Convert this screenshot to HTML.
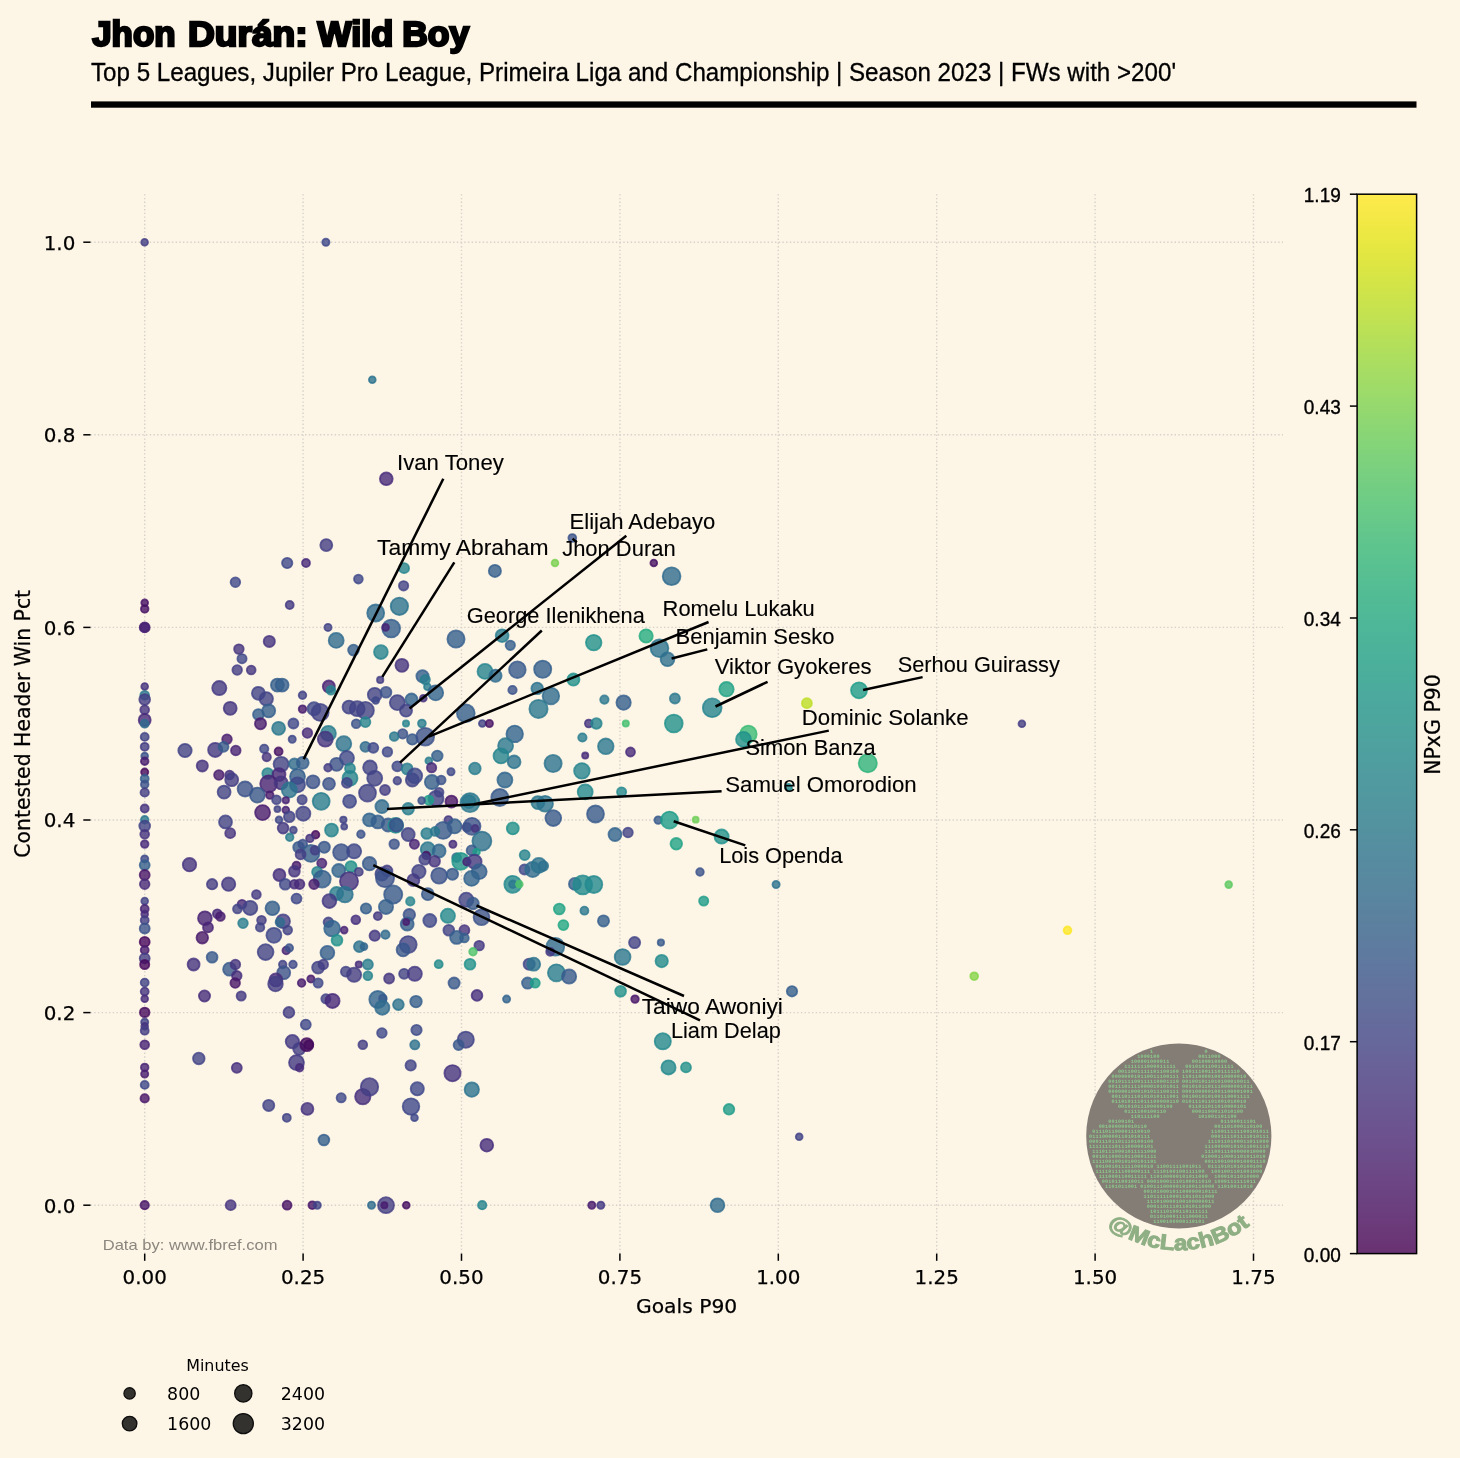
<!DOCTYPE html>
<html lang="en"><head><meta charset="utf-8"><title>Jhon Durán: Wild Boy</title>
<style>
html,body{margin:0;padding:0;background:#fdf5e6;}
body{width:1460px;height:1458px;overflow:hidden;}
svg{display:block}
.dj{font-family:"DejaVu Sans","Liberation Sans",sans-serif;}
.rb{font-family:"Liberation Sans","DejaVu Sans",sans-serif;}
</style></head><body>
<svg width="1460" height="1458" viewBox="0 0 1460 1458">
<rect width="1460" height="1458" fill="#fdf5e6"/>

<text class="rb" y="45.9" font-size="35.0" font-weight="700" fill="#000" stroke="#000" stroke-width="2.4" stroke-linejoin="miter"><tspan x="92.2" textLength="83.4" lengthAdjust="spacingAndGlyphs">Jhon</tspan> <tspan x="188.0" textLength="119.6" lengthAdjust="spacingAndGlyphs">Durán:</tspan> <tspan x="317.4" textLength="75.9" lengthAdjust="spacingAndGlyphs">Wild</tspan> <tspan x="402.3" textLength="66.9" lengthAdjust="spacingAndGlyphs">Boy</tspan></text>
<text x="91" y="80.8" class="rb" font-size="25.2" fill="#000" stroke="#000" stroke-width="0.3" textLength="1085" lengthAdjust="spacingAndGlyphs">Top 5 Leagues, Jupiler Pro League, Primeira Liga and Championship | Season 2023 | FWs with &gt;200'</text>
<rect x="91" y="101.4" width="1325.5" height="6.3" fill="#000"/>
<g stroke="#d6d2ca" stroke-width="1.4" stroke-dasharray="1.4 2.3" fill="none">
<line x1="144.7" y1="194.2" x2="144.7" y2="1253.6"/>
<line x1="303.1" y1="194.2" x2="303.1" y2="1253.6"/>
<line x1="461.5" y1="194.2" x2="461.5" y2="1253.6"/>
<line x1="619.9" y1="194.2" x2="619.9" y2="1253.6"/>
<line x1="778.3" y1="194.2" x2="778.3" y2="1253.6"/>
<line x1="936.7" y1="194.2" x2="936.7" y2="1253.6"/>
<line x1="1095.1" y1="194.2" x2="1095.1" y2="1253.6"/>
<line x1="1253.5" y1="194.2" x2="1253.5" y2="1253.6"/>
<line x1="90.5" y1="1205.2" x2="1283.0" y2="1205.2"/>
<line x1="90.5" y1="1012.6" x2="1283.0" y2="1012.6"/>
<line x1="90.5" y1="820.0" x2="1283.0" y2="820.0"/>
<line x1="90.5" y1="627.4" x2="1283.0" y2="627.4"/>
<line x1="90.5" y1="434.8" x2="1283.0" y2="434.8"/>
<line x1="90.5" y1="242.2" x2="1283.0" y2="242.2"/>
</g>
<g stroke="#000" stroke-width="1.5">
<line x1="144.7" y1="1253.6" x2="144.7" y2="1260.8"/>
<line x1="303.1" y1="1253.6" x2="303.1" y2="1260.8"/>
<line x1="461.5" y1="1253.6" x2="461.5" y2="1260.8"/>
<line x1="619.9" y1="1253.6" x2="619.9" y2="1260.8"/>
<line x1="778.3" y1="1253.6" x2="778.3" y2="1260.8"/>
<line x1="936.7" y1="1253.6" x2="936.7" y2="1260.8"/>
<line x1="1095.1" y1="1253.6" x2="1095.1" y2="1260.8"/>
<line x1="1253.5" y1="1253.6" x2="1253.5" y2="1260.8"/>
<line x1="83.3" y1="1205.2" x2="90.5" y2="1205.2"/>
<line x1="83.3" y1="1012.6" x2="90.5" y2="1012.6"/>
<line x1="83.3" y1="820.0" x2="90.5" y2="820.0"/>
<line x1="83.3" y1="627.4" x2="90.5" y2="627.4"/>
<line x1="83.3" y1="434.8" x2="90.5" y2="434.8"/>
<line x1="83.3" y1="242.2" x2="90.5" y2="242.2"/>
</g>
<g class="dj" font-size="19.9" fill="#000" stroke="#000" stroke-width="0.25">
<text x="144.7" y="1283.8" text-anchor="middle">0.00</text>
<text x="303.1" y="1283.8" text-anchor="middle">0.25</text>
<text x="461.5" y="1283.8" text-anchor="middle">0.50</text>
<text x="619.9" y="1283.8" text-anchor="middle">0.75</text>
<text x="778.3" y="1283.8" text-anchor="middle">1.00</text>
<text x="936.7" y="1283.8" text-anchor="middle">1.25</text>
<text x="1095.1" y="1283.8" text-anchor="middle">1.50</text>
<text x="1253.5" y="1283.8" text-anchor="middle">1.75</text>
<text x="75.3" y="1212.6" text-anchor="end">0.0</text>
<text x="75.3" y="1020.0" text-anchor="end">0.2</text>
<text x="75.3" y="827.4" text-anchor="end">0.4</text>
<text x="75.3" y="634.8" text-anchor="end">0.6</text>
<text x="75.3" y="442.2" text-anchor="end">0.8</text>
<text x="75.3" y="249.6" text-anchor="end">1.0</text>
</g>
<text class="dj" font-size="20.3" x="686.6" y="1312.9" text-anchor="middle" fill="#000" stroke="#000" stroke-width="0.25">Goals P90</text>
<text class="dj" font-size="20.4" transform="translate(30.0 723.8) rotate(-90)" text-anchor="middle" fill="#000" stroke="#000" stroke-width="0.25">Contested Header Win Pct</text>
<g fill-opacity="0.8" stroke-opacity="0.8" stroke-width="1.8">
<circle cx="144.6" cy="242.3" r="3.4" fill="#433e85" stroke="#433e85"/>
<circle cx="325.9" cy="242.3" r="3.6" fill="#3e4989" stroke="#3e4989"/>
<circle cx="372.3" cy="379.7" r="3.4" fill="#2c738e" stroke="#2c738e"/>
<circle cx="386.3" cy="478.8" r="6.4" fill="#472a7a" stroke="#472a7a"/>
<circle cx="572.3" cy="538.0" r="3.9" fill="#3b528b" stroke="#3b528b"/>
<circle cx="555.0" cy="563.0" r="3.4" fill="#7ad151" stroke="#7ad151"/>
<circle cx="653.8" cy="563.0" r="3.4" fill="#471365" stroke="#471365"/>
<circle cx="671.6" cy="576.2" r="8.9" fill="#2f6c8e" stroke="#2f6c8e"/>
<circle cx="494.9" cy="570.9" r="6.1" fill="#355f8d" stroke="#355f8d"/>
<circle cx="404.1" cy="568.2" r="5.0" fill="#25848e" stroke="#25848e"/>
<circle cx="403.6" cy="585.8" r="4.7" fill="#414487" stroke="#414487"/>
<circle cx="456.0" cy="639.0" r="8.6" fill="#355f8d" stroke="#355f8d"/>
<circle cx="502.1" cy="635.7" r="6.4" fill="#287d8e" stroke="#287d8e"/>
<circle cx="510.3" cy="645.3" r="4.7" fill="#355f8d" stroke="#355f8d"/>
<circle cx="593.7" cy="642.6" r="7.8" fill="#21918c" stroke="#21918c"/>
<circle cx="646.1" cy="636.0" r="6.7" fill="#26ad81" stroke="#26ad81"/>
<circle cx="659.5" cy="648.3" r="8.9" fill="#2c738e" stroke="#2c738e"/>
<circle cx="667.5" cy="659.3" r="6.9" fill="#2e6f8e" stroke="#2e6f8e"/>
<circle cx="422.5" cy="676.3" r="6.1" fill="#355f8d" stroke="#355f8d"/>
<circle cx="425.2" cy="679.6" r="4.7" fill="#287d8e" stroke="#287d8e"/>
<circle cx="427.4" cy="686.7" r="3.4" fill="#287d8e" stroke="#287d8e"/>
<circle cx="485.0" cy="671.4" r="7.5" fill="#25848e" stroke="#25848e"/>
<circle cx="495.5" cy="675.7" r="6.1" fill="#2f6c8e" stroke="#2f6c8e"/>
<circle cx="517.4" cy="669.7" r="8.3" fill="#375a8c" stroke="#375a8c"/>
<circle cx="542.7" cy="669.2" r="8.6" fill="#355f8d" stroke="#355f8d"/>
<circle cx="573.4" cy="679.6" r="6.1" fill="#21918c" stroke="#21918c"/>
<circle cx="512.5" cy="690.0" r="4.2" fill="#3b528b" stroke="#3b528b"/>
<circle cx="537.2" cy="688.4" r="5.8" fill="#2c738e" stroke="#2c738e"/>
<circle cx="550.9" cy="696.0" r="8.3" fill="#2f6c8e" stroke="#2f6c8e"/>
<circle cx="435.7" cy="692.8" r="7.5" fill="#32648e" stroke="#32648e"/>
<circle cx="411.5" cy="699.6" r="6.1" fill="#32648e" stroke="#32648e"/>
<circle cx="423.3" cy="698.2" r="3.4" fill="#463480" stroke="#463480"/>
<circle cx="406.0" cy="710.6" r="6.1" fill="#414487" stroke="#414487"/>
<circle cx="604.4" cy="699.6" r="4.2" fill="#2a788e" stroke="#2a788e"/>
<circle cx="623.6" cy="702.6" r="7.2" fill="#355f8d" stroke="#355f8d"/>
<circle cx="674.9" cy="698.5" r="5.0" fill="#2a788e" stroke="#2a788e"/>
<circle cx="726.5" cy="689.2" r="7.2" fill="#20a386" stroke="#20a386"/>
<circle cx="712.2" cy="707.8" r="9.4" fill="#25848e" stroke="#25848e"/>
<circle cx="538.5" cy="708.9" r="9.1" fill="#2a788e" stroke="#2a788e"/>
<circle cx="465.8" cy="713.3" r="8.9" fill="#355f8d" stroke="#355f8d"/>
<circle cx="406.0" cy="723.5" r="3.1" fill="#25848e" stroke="#25848e"/>
<circle cx="421.9" cy="723.5" r="3.9" fill="#287d8e" stroke="#287d8e"/>
<circle cx="482.3" cy="723.5" r="3.4" fill="#414487" stroke="#414487"/>
<circle cx="489.4" cy="723.5" r="3.6" fill="#471365" stroke="#471365"/>
<circle cx="588.8" cy="723.5" r="3.9" fill="#463480" stroke="#463480"/>
<circle cx="596.4" cy="723.5" r="5.3" fill="#25848e" stroke="#25848e"/>
<circle cx="625.8" cy="723.5" r="3.1" fill="#44bf70" stroke="#44bf70"/>
<circle cx="673.8" cy="723.5" r="8.9" fill="#21918c" stroke="#21918c"/>
<circle cx="748.4" cy="733.9" r="8.3" fill="#3bbb75" stroke="#3bbb75"/>
<circle cx="743.5" cy="739.4" r="7.5" fill="#21918c" stroke="#21918c"/>
<circle cx="402.7" cy="733.9" r="4.7" fill="#3b528b" stroke="#3b528b"/>
<circle cx="412.3" cy="739.4" r="5.3" fill="#375a8c" stroke="#375a8c"/>
<circle cx="425.2" cy="736.7" r="8.9" fill="#3b528b" stroke="#3b528b"/>
<circle cx="514.7" cy="733.9" r="8.3" fill="#32648e" stroke="#32648e"/>
<circle cx="505.6" cy="745.7" r="7.5" fill="#2a788e" stroke="#2a788e"/>
<circle cx="582.4" cy="737.5" r="4.2" fill="#287d8e" stroke="#287d8e"/>
<circle cx="605.8" cy="746.3" r="7.8" fill="#2a788e" stroke="#2a788e"/>
<circle cx="630.5" cy="752.0" r="4.5" fill="#472a7a" stroke="#472a7a"/>
<circle cx="585.2" cy="755.6" r="3.1" fill="#472a7a" stroke="#472a7a"/>
<circle cx="501.0" cy="755.9" r="7.5" fill="#25848e" stroke="#25848e"/>
<circle cx="514.1" cy="761.9" r="6.4" fill="#2c738e" stroke="#2c738e"/>
<circle cx="437.3" cy="755.9" r="5.3" fill="#355f8d" stroke="#355f8d"/>
<circle cx="428.8" cy="760.8" r="3.4" fill="#287d8e" stroke="#287d8e"/>
<circle cx="431.6" cy="767.7" r="4.7" fill="#472a7a" stroke="#472a7a"/>
<circle cx="553.1" cy="763.5" r="8.6" fill="#2c738e" stroke="#2c738e"/>
<circle cx="581.9" cy="770.9" r="7.8" fill="#25848e" stroke="#25848e"/>
<circle cx="474.9" cy="768.5" r="5.8" fill="#287d8e" stroke="#287d8e"/>
<circle cx="451.0" cy="771.8" r="3.6" fill="#3e4989" stroke="#3e4989"/>
<circle cx="859.0" cy="690.3" r="8.0" fill="#1e9c89" stroke="#1e9c89"/>
<circle cx="806.9" cy="703.2" r="5.0" fill="#bddf26" stroke="#bddf26"/>
<circle cx="1021.9" cy="723.8" r="3.4" fill="#433e85" stroke="#433e85"/>
<circle cx="867.8" cy="763.3" r="9.1" fill="#2fb47c" stroke="#2fb47c"/>
<circle cx="1067.5" cy="930.3" r="3.9" fill="#fde725" stroke="#fde725"/>
<circle cx="974.2" cy="976.2" r="3.9" fill="#86d549" stroke="#86d549"/>
<circle cx="799.2" cy="1136.7" r="3.4" fill="#414487" stroke="#414487"/>
<circle cx="1228.7" cy="884.6" r="3.4" fill="#5ec962" stroke="#5ec962"/>
<circle cx="326.3" cy="545.1" r="6.0" fill="#433e85" stroke="#433e85"/>
<circle cx="287.2" cy="563.0" r="5.2" fill="#3e4989" stroke="#3e4989"/>
<circle cx="306.0" cy="563.0" r="4.0" fill="#472a7a" stroke="#472a7a"/>
<circle cx="235.4" cy="582.2" r="4.8" fill="#3e4989" stroke="#3e4989"/>
<circle cx="358.4" cy="579.1" r="4.4" fill="#3e4989" stroke="#3e4989"/>
<circle cx="289.7" cy="605.0" r="4.0" fill="#443a83" stroke="#443a83"/>
<circle cx="375.7" cy="613.0" r="8.5" fill="#2f6c8e" stroke="#2f6c8e"/>
<circle cx="399.4" cy="606.3" r="8.7" fill="#2c738e" stroke="#2c738e"/>
<circle cx="391.2" cy="628.5" r="8.9" fill="#355f8d" stroke="#355f8d"/>
<circle cx="385.6" cy="627.4" r="3.4" fill="#482475" stroke="#482475"/>
<circle cx="328.0" cy="627.4" r="3.6" fill="#414487" stroke="#414487"/>
<circle cx="336.2" cy="640.4" r="7.5" fill="#2f6c8e" stroke="#2f6c8e"/>
<circle cx="353.5" cy="650.1" r="5.4" fill="#355f8d" stroke="#355f8d"/>
<circle cx="380.9" cy="652.1" r="6.9" fill="#25848e" stroke="#25848e"/>
<circle cx="401.9" cy="665.3" r="6.5" fill="#463480" stroke="#463480"/>
<circle cx="269.3" cy="641.4" r="5.6" fill="#463480" stroke="#463480"/>
<circle cx="238.9" cy="649.1" r="4.8" fill="#463480" stroke="#463480"/>
<circle cx="242.0" cy="658.7" r="4.6" fill="#3e4989" stroke="#3e4989"/>
<circle cx="237.2" cy="670.0" r="4.8" fill="#433e85" stroke="#433e85"/>
<circle cx="251.2" cy="670.0" r="4.4" fill="#453781" stroke="#453781"/>
<circle cx="380.2" cy="679.9" r="3.2" fill="#433e85" stroke="#433e85"/>
<circle cx="219.3" cy="688.1" r="7.1" fill="#443a83" stroke="#443a83"/>
<circle cx="277.4" cy="685.1" r="6.5" fill="#355f8d" stroke="#355f8d"/>
<circle cx="282.1" cy="685.1" r="6.5" fill="#355f8d" stroke="#355f8d"/>
<circle cx="328.8" cy="686.5" r="6.0" fill="#482475" stroke="#482475"/>
<circle cx="330.9" cy="690.2" r="4.4" fill="#25848e" stroke="#25848e"/>
<circle cx="258.4" cy="693.3" r="6.5" fill="#414487" stroke="#414487"/>
<circle cx="266.3" cy="698.8" r="6.7" fill="#414487" stroke="#414487"/>
<circle cx="302.5" cy="695.3" r="3.8" fill="#414487" stroke="#414487"/>
<circle cx="374.7" cy="694.7" r="6.9" fill="#414487" stroke="#414487"/>
<circle cx="386.0" cy="692.3" r="5.4" fill="#3b528b" stroke="#3b528b"/>
<circle cx="375.7" cy="700.5" r="3.4" fill="#3e4989" stroke="#3e4989"/>
<circle cx="397.3" cy="702.6" r="7.5" fill="#414487" stroke="#414487"/>
<circle cx="230.2" cy="708.3" r="6.5" fill="#453781" stroke="#453781"/>
<circle cx="302.5" cy="709.1" r="3.8" fill="#481d6f" stroke="#481d6f"/>
<circle cx="314.0" cy="708.7" r="6.5" fill="#3e4989" stroke="#3e4989"/>
<circle cx="320.2" cy="712.4" r="8.5" fill="#414487" stroke="#414487"/>
<circle cx="349.0" cy="707.1" r="6.5" fill="#414487" stroke="#414487"/>
<circle cx="357.2" cy="708.7" r="7.5" fill="#414487" stroke="#414487"/>
<circle cx="365.4" cy="710.4" r="8.5" fill="#414487" stroke="#414487"/>
<circle cx="268.7" cy="710.8" r="6.5" fill="#355f8d" stroke="#355f8d"/>
<circle cx="258.4" cy="714.5" r="5.4" fill="#355f8d" stroke="#355f8d"/>
<circle cx="260.5" cy="723.7" r="5.6" fill="#481d6f" stroke="#481d6f"/>
<circle cx="278.6" cy="728.3" r="6.5" fill="#2a788e" stroke="#2a788e"/>
<circle cx="293.4" cy="723.5" r="5.0" fill="#3e4989" stroke="#3e4989"/>
<circle cx="356.2" cy="723.7" r="4.4" fill="#3b528b" stroke="#3b528b"/>
<circle cx="365.4" cy="722.1" r="5.0" fill="#25848e" stroke="#25848e"/>
<circle cx="307.4" cy="733.0" r="4.8" fill="#472a7a" stroke="#472a7a"/>
<circle cx="328.4" cy="733.4" r="7.5" fill="#287d8e" stroke="#287d8e"/>
<circle cx="325.3" cy="739.2" r="7.5" fill="#463480" stroke="#463480"/>
<circle cx="292.2" cy="739.2" r="3.6" fill="#3e4989" stroke="#3e4989"/>
<circle cx="227.0" cy="739.2" r="4.8" fill="#481d6f" stroke="#481d6f"/>
<circle cx="343.8" cy="743.7" r="7.5" fill="#2c738e" stroke="#2c738e"/>
<circle cx="394.2" cy="736.5" r="4.4" fill="#2a788e" stroke="#2a788e"/>
<circle cx="185.0" cy="750.5" r="6.7" fill="#414487" stroke="#414487"/>
<circle cx="215.2" cy="749.9" r="7.1" fill="#443a83" stroke="#443a83"/>
<circle cx="223.5" cy="746.8" r="5.0" fill="#375a8c" stroke="#375a8c"/>
<circle cx="235.8" cy="750.5" r="4.8" fill="#482475" stroke="#482475"/>
<circle cx="264.2" cy="748.8" r="4.2" fill="#3e4989" stroke="#3e4989"/>
<circle cx="278.6" cy="751.5" r="4.0" fill="#471365" stroke="#471365"/>
<circle cx="266.7" cy="757.1" r="4.2" fill="#463480" stroke="#463480"/>
<circle cx="365.4" cy="746.8" r="5.0" fill="#2f6c8e" stroke="#2f6c8e"/>
<circle cx="373.3" cy="747.8" r="5.0" fill="#3e4989" stroke="#3e4989"/>
<circle cx="387.4" cy="751.9" r="4.8" fill="#3e4989" stroke="#3e4989"/>
<circle cx="202.3" cy="765.9" r="5.6" fill="#463480" stroke="#463480"/>
<circle cx="281.1" cy="764.3" r="7.5" fill="#414487" stroke="#414487"/>
<circle cx="294.4" cy="763.9" r="5.4" fill="#2f6c8e" stroke="#2f6c8e"/>
<circle cx="302.7" cy="762.8" r="6.0" fill="#355f8d" stroke="#355f8d"/>
<circle cx="346.9" cy="758.1" r="7.1" fill="#3e4989" stroke="#3e4989"/>
<circle cx="336.6" cy="764.3" r="6.5" fill="#3b528b" stroke="#3b528b"/>
<circle cx="328.0" cy="767.8" r="3.8" fill="#433e85" stroke="#433e85"/>
<circle cx="350.0" cy="768.4" r="5.0" fill="#25848e" stroke="#25848e"/>
<circle cx="370.0" cy="767.4" r="6.9" fill="#414487" stroke="#414487"/>
<circle cx="397.3" cy="766.3" r="5.0" fill="#3e4989" stroke="#3e4989"/>
<circle cx="218.9" cy="775.0" r="4.8" fill="#481d6f" stroke="#481d6f"/>
<circle cx="229.6" cy="775.0" r="4.4" fill="#463480" stroke="#463480"/>
<circle cx="231.7" cy="779.7" r="6.5" fill="#433e85" stroke="#433e85"/>
<circle cx="267.7" cy="773.5" r="5.4" fill="#25848e" stroke="#25848e"/>
<circle cx="279.0" cy="774.6" r="6.5" fill="#472a7a" stroke="#472a7a"/>
<circle cx="297.5" cy="776.6" r="7.5" fill="#355f8d" stroke="#355f8d"/>
<circle cx="350.0" cy="778.3" r="7.5" fill="#25848e" stroke="#25848e"/>
<circle cx="346.9" cy="782.8" r="5.0" fill="#414487" stroke="#414487"/>
<circle cx="374.7" cy="778.3" r="7.5" fill="#414487" stroke="#414487"/>
<circle cx="397.3" cy="780.7" r="3.8" fill="#414487" stroke="#414487"/>
<circle cx="268.7" cy="783.8" r="8.5" fill="#482475" stroke="#482475"/>
<circle cx="281.1" cy="782.8" r="6.5" fill="#463480" stroke="#463480"/>
<circle cx="297.5" cy="784.9" r="7.5" fill="#3e4989" stroke="#3e4989"/>
<circle cx="313.0" cy="781.8" r="6.5" fill="#3b528b" stroke="#3b528b"/>
<circle cx="329.0" cy="783.8" r="6.0" fill="#3b528b" stroke="#3b528b"/>
<circle cx="289.3" cy="790.0" r="7.5" fill="#2c738e" stroke="#2c738e"/>
<circle cx="224.1" cy="792.1" r="6.5" fill="#414487" stroke="#414487"/>
<circle cx="245.1" cy="789.0" r="7.5" fill="#3b528b" stroke="#3b528b"/>
<circle cx="257.4" cy="795.1" r="7.5" fill="#38588c" stroke="#38588c"/>
<circle cx="269.8" cy="795.1" r="3.8" fill="#481d6f" stroke="#481d6f"/>
<circle cx="367.5" cy="793.1" r="8.5" fill="#414487" stroke="#414487"/>
<circle cx="385.0" cy="790.0" r="5.0" fill="#433e85" stroke="#433e85"/>
<circle cx="276.5" cy="799.7" r="4.4" fill="#414487" stroke="#414487"/>
<circle cx="285.8" cy="800.3" r="3.2" fill="#482475" stroke="#482475"/>
<circle cx="302.1" cy="799.7" r="4.6" fill="#414487" stroke="#414487"/>
<circle cx="321.2" cy="801.3" r="8.5" fill="#287d8e" stroke="#287d8e"/>
<circle cx="349.6" cy="801.3" r="6.5" fill="#3e4989" stroke="#3e4989"/>
<circle cx="381.9" cy="806.5" r="6.5" fill="#2f6c8e" stroke="#2f6c8e"/>
<circle cx="262.6" cy="812.6" r="7.5" fill="#481d6f" stroke="#481d6f"/>
<circle cx="277.4" cy="809.1" r="3.0" fill="#414487" stroke="#414487"/>
<circle cx="285.8" cy="810.0" r="3.4" fill="#482475" stroke="#482475"/>
<circle cx="303.3" cy="813.7" r="7.1" fill="#414487" stroke="#414487"/>
<circle cx="289.3" cy="816.7" r="5.4" fill="#414487" stroke="#414487"/>
<circle cx="279.0" cy="819.8" r="3.4" fill="#3e4989" stroke="#3e4989"/>
<circle cx="225.5" cy="821.9" r="6.5" fill="#414487" stroke="#414487"/>
<circle cx="343.4" cy="819.8" r="3.2" fill="#414487" stroke="#414487"/>
<circle cx="344.2" cy="826.6" r="3.0" fill="#414487" stroke="#414487"/>
<circle cx="369.5" cy="819.8" r="6.5" fill="#32648e" stroke="#32648e"/>
<circle cx="377.8" cy="821.9" r="6.5" fill="#355f8d" stroke="#355f8d"/>
<circle cx="388.1" cy="825.0" r="6.5" fill="#375a8c" stroke="#375a8c"/>
<circle cx="395.7" cy="825.4" r="7.5" fill="#21918c" stroke="#21918c"/>
<circle cx="396.3" cy="825.0" r="6.7" fill="#3b528b" stroke="#3b528b"/>
<circle cx="331.5" cy="830.1" r="6.5" fill="#25848e" stroke="#25848e"/>
<circle cx="283.1" cy="828.1" r="5.4" fill="#443a83" stroke="#443a83"/>
<circle cx="293.4" cy="830.1" r="3.4" fill="#414487" stroke="#414487"/>
<circle cx="230.2" cy="833.2" r="5.0" fill="#463480" stroke="#463480"/>
<circle cx="315.6" cy="834.7" r="3.8" fill="#460b5e" stroke="#460b5e"/>
<circle cx="360.9" cy="834.2" r="3.8" fill="#3b528b" stroke="#3b528b"/>
<circle cx="289.7" cy="837.3" r="3.8" fill="#287d8e" stroke="#287d8e"/>
<circle cx="309.9" cy="838.4" r="3.8" fill="#463480" stroke="#463480"/>
<circle cx="144.7" cy="602.8" r="3.4" fill="#471365" stroke="#471365"/>
<circle cx="144.7" cy="608.9" r="3.8" fill="#471365" stroke="#471365"/>
<circle cx="144.7" cy="627.4" r="5.0" fill="#481d6f" stroke="#481d6f"/>
<circle cx="144.7" cy="627.4" r="4.4" fill="#482475" stroke="#482475"/>
<circle cx="144.7" cy="686.5" r="3.4" fill="#463480" stroke="#463480"/>
<circle cx="144.7" cy="695.3" r="4.4" fill="#2a788e" stroke="#2a788e"/>
<circle cx="144.7" cy="699.5" r="5.4" fill="#433e85" stroke="#433e85"/>
<circle cx="144.7" cy="709.8" r="4.4" fill="#463480" stroke="#463480"/>
<circle cx="144.7" cy="720.0" r="6.0" fill="#472a7a" stroke="#472a7a"/>
<circle cx="144.7" cy="723.7" r="4.0" fill="#2f6c8e" stroke="#2f6c8e"/>
<circle cx="144.7" cy="736.9" r="4.0" fill="#414487" stroke="#414487"/>
<circle cx="144.7" cy="746.8" r="4.0" fill="#433e85" stroke="#433e85"/>
<circle cx="144.7" cy="756.0" r="3.4" fill="#3b528b" stroke="#3b528b"/>
<circle cx="144.7" cy="761.2" r="3.8" fill="#481d6f" stroke="#481d6f"/>
<circle cx="144.7" cy="772.1" r="3.6" fill="#460b5e" stroke="#460b5e"/>
<circle cx="144.7" cy="778.7" r="4.0" fill="#355f8d" stroke="#355f8d"/>
<circle cx="144.7" cy="784.4" r="3.8" fill="#3b528b" stroke="#3b528b"/>
<circle cx="144.7" cy="792.5" r="4.2" fill="#433e85" stroke="#433e85"/>
<circle cx="144.7" cy="808.5" r="4.0" fill="#463480" stroke="#463480"/>
<circle cx="144.7" cy="819.8" r="3.8" fill="#2a788e" stroke="#2a788e"/>
<circle cx="144.7" cy="826.0" r="5.4" fill="#414487" stroke="#414487"/>
<circle cx="144.7" cy="834.2" r="4.4" fill="#463480" stroke="#463480"/>
<circle cx="144.7" cy="844.1" r="3.8" fill="#472a7a" stroke="#472a7a"/>
<circle cx="144.7" cy="858.9" r="3.6" fill="#3e4989" stroke="#3e4989"/>
<circle cx="144.7" cy="865.1" r="5.0" fill="#355f8d" stroke="#355f8d"/>
<circle cx="144.7" cy="875.0" r="5.0" fill="#481769" stroke="#481769"/>
<circle cx="144.7" cy="884.2" r="4.8" fill="#472a7a" stroke="#472a7a"/>
<circle cx="144.7" cy="901.1" r="3.4" fill="#414487" stroke="#414487"/>
<circle cx="144.7" cy="908.9" r="4.0" fill="#482475" stroke="#482475"/>
<circle cx="144.7" cy="914.1" r="3.4" fill="#472a7a" stroke="#472a7a"/>
<circle cx="144.7" cy="920.2" r="4.0" fill="#433e85" stroke="#433e85"/>
<circle cx="144.7" cy="928.5" r="5.0" fill="#3b528b" stroke="#3b528b"/>
<circle cx="144.7" cy="941.9" r="5.0" fill="#46085c" stroke="#46085c"/>
<circle cx="144.7" cy="950.1" r="4.0" fill="#481d6f" stroke="#481d6f"/>
<circle cx="144.7" cy="958.3" r="5.0" fill="#433e85" stroke="#433e85"/>
<circle cx="144.7" cy="964.5" r="4.6" fill="#46085c" stroke="#46085c"/>
<circle cx="144.7" cy="982.6" r="4.0" fill="#414487" stroke="#414487"/>
<circle cx="144.7" cy="991.6" r="4.0" fill="#463480" stroke="#463480"/>
<circle cx="144.7" cy="998.8" r="3.4" fill="#472a7a" stroke="#472a7a"/>
<circle cx="144.7" cy="1012.4" r="4.8" fill="#460b5e" stroke="#460b5e"/>
<circle cx="144.7" cy="1022.1" r="3.6" fill="#414487" stroke="#414487"/>
<circle cx="144.7" cy="1026.2" r="3.4" fill="#463480" stroke="#463480"/>
<circle cx="144.7" cy="1030.7" r="4.0" fill="#433e85" stroke="#433e85"/>
<circle cx="144.7" cy="1044.7" r="4.4" fill="#482475" stroke="#482475"/>
<circle cx="144.7" cy="1067.4" r="3.8" fill="#482475" stroke="#482475"/>
<circle cx="144.7" cy="1074.0" r="3.6" fill="#481d6f" stroke="#481d6f"/>
<circle cx="144.7" cy="1084.9" r="4.0" fill="#3e4989" stroke="#3e4989"/>
<circle cx="144.7" cy="1098.4" r="4.2" fill="#481769" stroke="#481769"/>
<circle cx="189.5" cy="864.7" r="6.7" fill="#463480" stroke="#463480"/>
<circle cx="212.1" cy="884.2" r="5.2" fill="#433e85" stroke="#433e85"/>
<circle cx="228.6" cy="884.2" r="6.7" fill="#443a83" stroke="#443a83"/>
<circle cx="256.4" cy="894.5" r="4.4" fill="#443a83" stroke="#443a83"/>
<circle cx="242.0" cy="904.2" r="4.4" fill="#472a7a" stroke="#472a7a"/>
<circle cx="237.4" cy="908.9" r="4.4" fill="#414487" stroke="#414487"/>
<circle cx="250.2" cy="907.9" r="7.1" fill="#414487" stroke="#414487"/>
<circle cx="272.4" cy="908.3" r="6.9" fill="#355f8d" stroke="#355f8d"/>
<circle cx="204.9" cy="918.2" r="6.9" fill="#482475" stroke="#482475"/>
<circle cx="208.0" cy="927.4" r="5.0" fill="#482475" stroke="#482475"/>
<circle cx="217.3" cy="913.7" r="4.4" fill="#472a7a" stroke="#472a7a"/>
<circle cx="220.4" cy="916.5" r="4.4" fill="#481d6f" stroke="#481d6f"/>
<circle cx="243.0" cy="923.3" r="4.8" fill="#287d8e" stroke="#287d8e"/>
<circle cx="261.5" cy="920.2" r="4.4" fill="#433e85" stroke="#433e85"/>
<circle cx="260.1" cy="927.4" r="4.2" fill="#414487" stroke="#414487"/>
<circle cx="283.1" cy="921.3" r="6.9" fill="#433e85" stroke="#433e85"/>
<circle cx="280.0" cy="922.3" r="4.4" fill="#2f6c8e" stroke="#2f6c8e"/>
<circle cx="287.7" cy="930.1" r="4.4" fill="#414487" stroke="#414487"/>
<circle cx="273.9" cy="935.3" r="7.5" fill="#3e4989" stroke="#3e4989"/>
<circle cx="202.3" cy="937.7" r="5.8" fill="#481a6c" stroke="#481a6c"/>
<circle cx="265.6" cy="952.1" r="7.9" fill="#414487" stroke="#414487"/>
<circle cx="286.2" cy="950.5" r="3.8" fill="#482475" stroke="#482475"/>
<circle cx="289.3" cy="948.0" r="3.8" fill="#3b528b" stroke="#3b528b"/>
<circle cx="212.1" cy="957.3" r="5.4" fill="#375a8c" stroke="#375a8c"/>
<circle cx="193.6" cy="964.5" r="6.0" fill="#463480" stroke="#463480"/>
<circle cx="229.6" cy="969.2" r="6.5" fill="#375a8c" stroke="#375a8c"/>
<circle cx="235.4" cy="964.5" r="4.8" fill="#463480" stroke="#463480"/>
<circle cx="236.8" cy="975.8" r="4.8" fill="#472e7c" stroke="#472e7c"/>
<circle cx="235.2" cy="983.0" r="4.8" fill="#481769" stroke="#481769"/>
<circle cx="282.7" cy="964.5" r="3.8" fill="#414487" stroke="#414487"/>
<circle cx="293.0" cy="964.5" r="3.8" fill="#3e4989" stroke="#3e4989"/>
<circle cx="283.7" cy="972.7" r="6.5" fill="#3b528b" stroke="#3b528b"/>
<circle cx="275.9" cy="979.9" r="6.5" fill="#472e7c" stroke="#472e7c"/>
<circle cx="275.5" cy="984.0" r="7.3" fill="#433e85" stroke="#433e85"/>
<circle cx="301.6" cy="983.0" r="3.8" fill="#481d6f" stroke="#481d6f"/>
<circle cx="310.9" cy="978.9" r="3.6" fill="#481d6f" stroke="#481d6f"/>
<circle cx="318.1" cy="983.0" r="4.6" fill="#3e4989" stroke="#3e4989"/>
<circle cx="204.5" cy="996.0" r="5.6" fill="#472e7c" stroke="#472e7c"/>
<circle cx="241.2" cy="996.0" r="4.6" fill="#443a83" stroke="#443a83"/>
<circle cx="288.9" cy="1012.4" r="5.4" fill="#433e85" stroke="#433e85"/>
<circle cx="305.8" cy="1024.6" r="5.0" fill="#3e4989" stroke="#3e4989"/>
<circle cx="292.4" cy="1041.6" r="6.7" fill="#443a83" stroke="#443a83"/>
<circle cx="299.2" cy="1048.8" r="6.0" fill="#433e85" stroke="#433e85"/>
<circle cx="306.8" cy="1044.7" r="6.5" fill="#460b5e" stroke="#460b5e"/>
<circle cx="308.8" cy="1044.7" r="4.4" fill="#460b5e" stroke="#460b5e"/>
<circle cx="296.5" cy="1062.6" r="7.5" fill="#443a83" stroke="#443a83"/>
<circle cx="299.6" cy="1067.8" r="3.8" fill="#472a7a" stroke="#472a7a"/>
<circle cx="198.8" cy="1058.5" r="5.8" fill="#414487" stroke="#414487"/>
<circle cx="236.8" cy="1067.8" r="5.0" fill="#46307e" stroke="#46307e"/>
<circle cx="268.7" cy="1105.4" r="5.6" fill="#414487" stroke="#414487"/>
<circle cx="286.8" cy="1117.8" r="4.0" fill="#414487" stroke="#414487"/>
<circle cx="307.4" cy="1108.9" r="6.0" fill="#463480" stroke="#463480"/>
<circle cx="341.2" cy="1097.8" r="4.6" fill="#3e4989" stroke="#3e4989"/>
<circle cx="362.8" cy="1096.6" r="7.7" fill="#472e7c" stroke="#472e7c"/>
<circle cx="369.5" cy="1086.9" r="8.7" fill="#433e85" stroke="#433e85"/>
<circle cx="362.8" cy="1044.7" r="4.4" fill="#433e85" stroke="#433e85"/>
<circle cx="381.9" cy="1033.0" r="4.8" fill="#3e4989" stroke="#3e4989"/>
<circle cx="323.9" cy="1140.0" r="5.4" fill="#355f8d" stroke="#355f8d"/>
<circle cx="298.6" cy="847.2" r="5.4" fill="#375a8c" stroke="#375a8c"/>
<circle cx="302.7" cy="844.1" r="4.4" fill="#3b528b" stroke="#3b528b"/>
<circle cx="310.9" cy="853.4" r="8.5" fill="#355f8d" stroke="#355f8d"/>
<circle cx="300.6" cy="854.4" r="5.0" fill="#433e85" stroke="#433e85"/>
<circle cx="315.0" cy="850.3" r="4.4" fill="#433e85" stroke="#433e85"/>
<circle cx="324.3" cy="847.2" r="5.6" fill="#38588c" stroke="#38588c"/>
<circle cx="341.2" cy="852.3" r="8.1" fill="#3b528b" stroke="#3b528b"/>
<circle cx="354.1" cy="851.3" r="7.1" fill="#3e4989" stroke="#3e4989"/>
<circle cx="394.2" cy="844.1" r="4.8" fill="#3b528b" stroke="#3b528b"/>
<circle cx="369.5" cy="863.7" r="6.7" fill="#375a8c" stroke="#375a8c"/>
<circle cx="351.0" cy="866.7" r="5.6" fill="#21918c" stroke="#21918c"/>
<circle cx="321.8" cy="863.3" r="4.6" fill="#482475" stroke="#482475"/>
<circle cx="296.5" cy="865.7" r="4.0" fill="#481a6c" stroke="#481a6c"/>
<circle cx="294.4" cy="871.3" r="5.4" fill="#463480" stroke="#463480"/>
<circle cx="317.1" cy="871.9" r="5.0" fill="#25848e" stroke="#25848e"/>
<circle cx="338.7" cy="870.5" r="6.5" fill="#32648e" stroke="#32648e"/>
<circle cx="358.8" cy="871.9" r="4.0" fill="#433e85" stroke="#433e85"/>
<circle cx="279.4" cy="875.0" r="6.0" fill="#46307e" stroke="#46307e"/>
<circle cx="322.2" cy="879.1" r="8.5" fill="#355f8d" stroke="#355f8d"/>
<circle cx="349.0" cy="881.2" r="9.1" fill="#463480" stroke="#463480"/>
<circle cx="381.9" cy="874.0" r="6.5" fill="#414487" stroke="#414487"/>
<circle cx="387.0" cy="870.9" r="5.4" fill="#433e85" stroke="#433e85"/>
<circle cx="385.0" cy="878.1" r="9.1" fill="#3b528b" stroke="#3b528b"/>
<circle cx="285.2" cy="884.2" r="5.4" fill="#3e4989" stroke="#3e4989"/>
<circle cx="294.4" cy="884.2" r="4.4" fill="#472e7c" stroke="#472e7c"/>
<circle cx="299.6" cy="884.2" r="4.8" fill="#472a7a" stroke="#472a7a"/>
<circle cx="314.0" cy="884.2" r="4.8" fill="#481d6f" stroke="#481d6f"/>
<circle cx="336.6" cy="893.5" r="6.5" fill="#287d8e" stroke="#287d8e"/>
<circle cx="344.9" cy="894.5" r="7.9" fill="#2c738e" stroke="#2c738e"/>
<circle cx="393.2" cy="894.5" r="9.1" fill="#375a8c" stroke="#375a8c"/>
<circle cx="296.5" cy="898.6" r="5.0" fill="#3e4989" stroke="#3e4989"/>
<circle cx="329.4" cy="901.1" r="6.9" fill="#443a83" stroke="#443a83"/>
<circle cx="386.0" cy="906.9" r="7.1" fill="#355f8d" stroke="#355f8d"/>
<circle cx="366.0" cy="908.5" r="5.2" fill="#355f8d" stroke="#355f8d"/>
<circle cx="377.8" cy="916.1" r="4.0" fill="#443a83" stroke="#443a83"/>
<circle cx="355.8" cy="919.8" r="4.4" fill="#46307e" stroke="#46307e"/>
<circle cx="328.4" cy="922.3" r="4.8" fill="#414487" stroke="#414487"/>
<circle cx="332.1" cy="928.5" r="7.9" fill="#32648e" stroke="#32648e"/>
<circle cx="344.2" cy="930.1" r="3.4" fill="#482475" stroke="#482475"/>
<circle cx="374.7" cy="935.7" r="5.2" fill="#443a83" stroke="#443a83"/>
<circle cx="385.4" cy="934.7" r="4.2" fill="#2f6c8e" stroke="#2f6c8e"/>
<circle cx="337.0" cy="940.2" r="5.4" fill="#21918c" stroke="#21918c"/>
<circle cx="359.3" cy="946.6" r="5.4" fill="#2c738e" stroke="#2c738e"/>
<circle cx="364.0" cy="946.6" r="3.4" fill="#31678e" stroke="#31678e"/>
<circle cx="327.4" cy="952.8" r="6.9" fill="#355f8d" stroke="#355f8d"/>
<circle cx="318.1" cy="967.6" r="6.0" fill="#414487" stroke="#414487"/>
<circle cx="323.3" cy="964.5" r="4.8" fill="#433e85" stroke="#433e85"/>
<circle cx="358.8" cy="964.5" r="3.2" fill="#472e7c" stroke="#472e7c"/>
<circle cx="367.9" cy="964.5" r="5.0" fill="#287d8e" stroke="#287d8e"/>
<circle cx="345.9" cy="971.7" r="5.0" fill="#414487" stroke="#414487"/>
<circle cx="354.1" cy="974.8" r="7.1" fill="#433e85" stroke="#433e85"/>
<circle cx="367.9" cy="975.8" r="4.4" fill="#25848e" stroke="#25848e"/>
<circle cx="389.1" cy="978.5" r="5.0" fill="#453781" stroke="#453781"/>
<circle cx="325.9" cy="998.8" r="4.6" fill="#414487" stroke="#414487"/>
<circle cx="332.5" cy="1000.9" r="7.1" fill="#472a7a" stroke="#472a7a"/>
<circle cx="377.8" cy="999.5" r="8.5" fill="#32648e" stroke="#32648e"/>
<circle cx="382.9" cy="998.4" r="3.8" fill="#375a8c" stroke="#375a8c"/>
<circle cx="382.3" cy="1007.7" r="7.1" fill="#2f6c8e" stroke="#2f6c8e"/>
<circle cx="398.4" cy="1004.6" r="5.4" fill="#2c738e" stroke="#2c738e"/>
<circle cx="412.3" cy="780.0" r="6.5" fill="#414487" stroke="#414487"/>
<circle cx="431.9" cy="782.1" r="7.1" fill="#355f8d" stroke="#355f8d"/>
<circle cx="441.2" cy="780.0" r="4.4" fill="#3b528b" stroke="#3b528b"/>
<circle cx="504.9" cy="780.0" r="7.5" fill="#31678e" stroke="#31678e"/>
<circle cx="439.1" cy="792.3" r="4.4" fill="#414487" stroke="#414487"/>
<circle cx="436.0" cy="798.5" r="7.5" fill="#414487" stroke="#414487"/>
<circle cx="428.8" cy="800.2" r="4.6" fill="#1e9c89" stroke="#1e9c89"/>
<circle cx="421.6" cy="800.6" r="3.4" fill="#3b528b" stroke="#3b528b"/>
<circle cx="451.4" cy="801.6" r="6.0" fill="#481769" stroke="#481769"/>
<circle cx="470.0" cy="802.6" r="9.5" fill="#2a788e" stroke="#2a788e"/>
<circle cx="468.9" cy="801.6" r="6.5" fill="#2a788e" stroke="#2a788e"/>
<circle cx="499.8" cy="797.5" r="8.5" fill="#375a8c" stroke="#375a8c"/>
<circle cx="585.2" cy="791.9" r="7.5" fill="#23898e" stroke="#23898e"/>
<circle cx="621.6" cy="791.9" r="4.6" fill="#23898e" stroke="#23898e"/>
<circle cx="408.2" cy="808.8" r="5.8" fill="#287d8e" stroke="#287d8e"/>
<circle cx="537.9" cy="802.6" r="6.5" fill="#2a788e" stroke="#2a788e"/>
<circle cx="545.1" cy="803.7" r="7.9" fill="#2c738e" stroke="#2c738e"/>
<circle cx="553.3" cy="818.1" r="7.9" fill="#375a8c" stroke="#375a8c"/>
<circle cx="595.5" cy="814.0" r="8.5" fill="#375a8c" stroke="#375a8c"/>
<circle cx="658.2" cy="820.1" r="3.8" fill="#375a8c" stroke="#375a8c"/>
<circle cx="669.5" cy="820.1" r="8.5" fill="#1e9c89" stroke="#1e9c89"/>
<circle cx="695.7" cy="819.7" r="3.0" fill="#6ece58" stroke="#6ece58"/>
<circle cx="448.4" cy="820.1" r="4.0" fill="#443a83" stroke="#443a83"/>
<circle cx="454.5" cy="826.3" r="7.1" fill="#355f8d" stroke="#355f8d"/>
<circle cx="443.2" cy="830.4" r="8.5" fill="#375a8c" stroke="#375a8c"/>
<circle cx="408.2" cy="834.5" r="6.5" fill="#414487" stroke="#414487"/>
<circle cx="426.7" cy="833.5" r="5.4" fill="#287d8e" stroke="#287d8e"/>
<circle cx="435.0" cy="831.4" r="4.4" fill="#2a788e" stroke="#2a788e"/>
<circle cx="466.9" cy="827.3" r="4.4" fill="#414487" stroke="#414487"/>
<circle cx="472.0" cy="826.3" r="8.5" fill="#3b528b" stroke="#3b528b"/>
<circle cx="475.1" cy="828.4" r="3.4" fill="#463480" stroke="#463480"/>
<circle cx="512.8" cy="828.4" r="6.0" fill="#21918c" stroke="#21918c"/>
<circle cx="615.0" cy="834.5" r="6.5" fill="#32648e" stroke="#32648e"/>
<circle cx="628.0" cy="832.5" r="4.8" fill="#414487" stroke="#414487"/>
<circle cx="414.4" cy="844.2" r="4.6" fill="#482475" stroke="#482475"/>
<circle cx="452.9" cy="844.2" r="3.6" fill="#472e7c" stroke="#472e7c"/>
<circle cx="481.9" cy="841.1" r="9.5" fill="#2d718e" stroke="#2d718e"/>
<circle cx="676.3" cy="843.8" r="5.8" fill="#20a386" stroke="#20a386"/>
<circle cx="427.8" cy="849.3" r="7.1" fill="#2a788e" stroke="#2a788e"/>
<circle cx="439.1" cy="851.0" r="6.5" fill="#31678e" stroke="#31678e"/>
<circle cx="471.6" cy="850.4" r="5.0" fill="#375a8c" stroke="#375a8c"/>
<circle cx="476.5" cy="852.0" r="3.4" fill="#1e9c89" stroke="#1e9c89"/>
<circle cx="426.3" cy="855.5" r="3.8" fill="#471365" stroke="#471365"/>
<circle cx="424.7" cy="859.2" r="5.4" fill="#414487" stroke="#414487"/>
<circle cx="434.6" cy="861.3" r="5.4" fill="#463480" stroke="#463480"/>
<circle cx="456.6" cy="857.6" r="4.4" fill="#2f6c8e" stroke="#2f6c8e"/>
<circle cx="460.7" cy="861.3" r="8.5" fill="#1f958b" stroke="#1f958b"/>
<circle cx="466.9" cy="861.7" r="3.8" fill="#482475" stroke="#482475"/>
<circle cx="474.5" cy="861.7" r="7.1" fill="#443a83" stroke="#443a83"/>
<circle cx="524.7" cy="855.1" r="5.0" fill="#25848e" stroke="#25848e"/>
<circle cx="479.2" cy="871.6" r="7.5" fill="#355f8d" stroke="#355f8d"/>
<circle cx="418.9" cy="871.6" r="6.7" fill="#414487" stroke="#414487"/>
<circle cx="439.1" cy="875.7" r="7.9" fill="#3b528b" stroke="#3b528b"/>
<circle cx="452.5" cy="874.2" r="5.6" fill="#375a8c" stroke="#375a8c"/>
<circle cx="471.6" cy="878.4" r="7.5" fill="#32648e" stroke="#32648e"/>
<circle cx="413.4" cy="880.2" r="6.0" fill="#443a83" stroke="#443a83"/>
<circle cx="524.5" cy="869.5" r="5.0" fill="#3e4989" stroke="#3e4989"/>
<circle cx="532.7" cy="869.5" r="7.5" fill="#2f6c8e" stroke="#2f6c8e"/>
<circle cx="538.9" cy="865.4" r="7.5" fill="#2c738e" stroke="#2c738e"/>
<circle cx="543.4" cy="866.0" r="4.8" fill="#2d718e" stroke="#2d718e"/>
<circle cx="512.8" cy="884.3" r="8.5" fill="#23898e" stroke="#23898e"/>
<circle cx="512.8" cy="884.3" r="3.8" fill="#2a788e" stroke="#2a788e"/>
<circle cx="519.3" cy="884.3" r="3.4" fill="#4ec36b" stroke="#4ec36b"/>
<circle cx="574.9" cy="883.9" r="6.0" fill="#355f8d" stroke="#355f8d"/>
<circle cx="582.7" cy="884.9" r="9.5" fill="#228b8d" stroke="#228b8d"/>
<circle cx="593.8" cy="884.5" r="8.5" fill="#23898e" stroke="#23898e"/>
<circle cx="427.8" cy="894.2" r="6.0" fill="#375a8c" stroke="#375a8c"/>
<circle cx="410.3" cy="901.4" r="4.2" fill="#25848e" stroke="#25848e"/>
<circle cx="466.3" cy="899.8" r="7.1" fill="#414487" stroke="#414487"/>
<circle cx="473.0" cy="903.5" r="5.8" fill="#375a8c" stroke="#375a8c"/>
<circle cx="559.3" cy="909.0" r="5.4" fill="#20a386" stroke="#20a386"/>
<circle cx="584.4" cy="910.7" r="4.0" fill="#2a788e" stroke="#2a788e"/>
<circle cx="409.3" cy="914.8" r="5.8" fill="#3b528b" stroke="#3b528b"/>
<circle cx="447.9" cy="915.8" r="7.1" fill="#23898e" stroke="#23898e"/>
<circle cx="481.5" cy="917.2" r="7.9" fill="#3b528b" stroke="#3b528b"/>
<circle cx="429.8" cy="920.5" r="6.5" fill="#3e4989" stroke="#3e4989"/>
<circle cx="407.2" cy="924.0" r="6.5" fill="#355f8d" stroke="#355f8d"/>
<circle cx="406.2" cy="922.0" r="3.0" fill="#481d6f" stroke="#481d6f"/>
<circle cx="603.5" cy="920.9" r="5.6" fill="#355f8d" stroke="#355f8d"/>
<circle cx="563.4" cy="925.1" r="5.0" fill="#22a884" stroke="#22a884"/>
<circle cx="448.8" cy="930.2" r="5.4" fill="#414487" stroke="#414487"/>
<circle cx="464.4" cy="930.2" r="5.0" fill="#463480" stroke="#463480"/>
<circle cx="456.6" cy="937.4" r="6.5" fill="#355f8d" stroke="#355f8d"/>
<circle cx="464.4" cy="938.0" r="4.4" fill="#355f8d" stroke="#355f8d"/>
<circle cx="408.2" cy="944.6" r="8.5" fill="#414487" stroke="#414487"/>
<circle cx="403.1" cy="949.8" r="6.5" fill="#38588c" stroke="#38588c"/>
<circle cx="479.2" cy="945.6" r="4.8" fill="#443a83" stroke="#443a83"/>
<circle cx="473.0" cy="951.8" r="3.8" fill="#4ec36b" stroke="#4ec36b"/>
<circle cx="634.6" cy="942.6" r="5.6" fill="#414487" stroke="#414487"/>
<circle cx="660.9" cy="942.6" r="3.2" fill="#375a8c" stroke="#375a8c"/>
<circle cx="555.3" cy="946.7" r="8.9" fill="#2f6c8e" stroke="#2f6c8e"/>
<circle cx="550.2" cy="951.8" r="4.0" fill="#443a83" stroke="#443a83"/>
<circle cx="622.6" cy="957.0" r="7.9" fill="#2a788e" stroke="#2a788e"/>
<circle cx="661.7" cy="961.1" r="6.2" fill="#228b8d" stroke="#228b8d"/>
<circle cx="438.7" cy="964.2" r="4.0" fill="#228b8d" stroke="#228b8d"/>
<circle cx="470.0" cy="964.2" r="5.4" fill="#21918c" stroke="#21918c"/>
<circle cx="529.2" cy="964.2" r="5.6" fill="#3e4989" stroke="#3e4989"/>
<circle cx="533.7" cy="964.2" r="6.5" fill="#2c738e" stroke="#2c738e"/>
<circle cx="404.1" cy="973.8" r="5.0" fill="#414487" stroke="#414487"/>
<circle cx="414.8" cy="973.8" r="7.1" fill="#443a83" stroke="#443a83"/>
<circle cx="556.4" cy="972.8" r="8.5" fill="#287d8e" stroke="#287d8e"/>
<circle cx="569.1" cy="976.5" r="7.1" fill="#375a8c" stroke="#375a8c"/>
<circle cx="454.1" cy="983.1" r="5.6" fill="#38588c" stroke="#38588c"/>
<circle cx="527.6" cy="983.1" r="5.6" fill="#355f8d" stroke="#355f8d"/>
<circle cx="535.2" cy="983.1" r="4.6" fill="#1e9c89" stroke="#1e9c89"/>
<circle cx="620.6" cy="991.3" r="5.4" fill="#21918c" stroke="#21918c"/>
<circle cx="477.0" cy="995.4" r="5.4" fill="#46307e" stroke="#46307e"/>
<circle cx="635.0" cy="999.1" r="3.8" fill="#481769" stroke="#481769"/>
<circle cx="506.6" cy="999.1" r="3.6" fill="#32648e" stroke="#32648e"/>
<circle cx="416.0" cy="1001.6" r="5.8" fill="#355f8d" stroke="#355f8d"/>
<circle cx="416.5" cy="1030.0" r="5.2" fill="#3e4c8a" stroke="#3e4c8a"/>
<circle cx="465.8" cy="1039.7" r="8.1" fill="#414487" stroke="#414487"/>
<circle cx="458.6" cy="1045.0" r="5.0" fill="#38588c" stroke="#38588c"/>
<circle cx="414.8" cy="1044.8" r="4.6" fill="#2d718e" stroke="#2d718e"/>
<circle cx="662.8" cy="1041.3" r="8.1" fill="#23898e" stroke="#23898e"/>
<circle cx="410.7" cy="1065.4" r="5.2" fill="#414487" stroke="#414487"/>
<circle cx="452.5" cy="1073.2" r="8.1" fill="#463480" stroke="#463480"/>
<circle cx="668.5" cy="1067.4" r="7.1" fill="#23898e" stroke="#23898e"/>
<circle cx="686.0" cy="1067.4" r="5.0" fill="#21918c" stroke="#21918c"/>
<circle cx="788.5" cy="787.2" r="3.4" fill="#23898e" stroke="#23898e"/>
<circle cx="721.6" cy="836.6" r="7.1" fill="#21918c" stroke="#21918c"/>
<circle cx="700.0" cy="872.0" r="3.8" fill="#3b528b" stroke="#3b528b"/>
<circle cx="776.1" cy="884.5" r="3.6" fill="#2c738e" stroke="#2c738e"/>
<circle cx="703.7" cy="901.0" r="4.6" fill="#1e9c89" stroke="#1e9c89"/>
<circle cx="792.0" cy="991.3" r="5.2" fill="#355f8d" stroke="#355f8d"/>
<circle cx="144.7" cy="1205.2" r="4.2" fill="#481769" stroke="#481769"/>
<circle cx="471.8" cy="1089.6" r="7.2" fill="#2c738e" stroke="#2c738e"/>
<circle cx="417.3" cy="1088.8" r="6.6" fill="#3e4989" stroke="#3e4989"/>
<circle cx="411.0" cy="1106.6" r="8.3" fill="#3e4989" stroke="#3e4989"/>
<circle cx="414.5" cy="1117.8" r="3.4" fill="#3e4989" stroke="#3e4989"/>
<circle cx="486.8" cy="1145.2" r="6.4" fill="#472e7c" stroke="#472e7c"/>
<circle cx="230.7" cy="1205.2" r="5.0" fill="#463480" stroke="#463480"/>
<circle cx="287.1" cy="1205.2" r="4.5" fill="#471365" stroke="#471365"/>
<circle cx="312.3" cy="1205.2" r="3.9" fill="#481769" stroke="#481769"/>
<circle cx="317.3" cy="1205.2" r="3.6" fill="#414487" stroke="#414487"/>
<circle cx="371.5" cy="1205.2" r="3.6" fill="#2f6c8e" stroke="#2f6c8e"/>
<circle cx="386.0" cy="1205.2" r="8.0" fill="#433e85" stroke="#433e85"/>
<circle cx="384.4" cy="1205.2" r="3.1" fill="#481d6f" stroke="#481d6f"/>
<circle cx="406.3" cy="1205.2" r="3.4" fill="#471063" stroke="#471063"/>
<circle cx="482.2" cy="1205.2" r="4.2" fill="#25848e" stroke="#25848e"/>
<circle cx="729.0" cy="1109.3" r="5.3" fill="#1e9c89" stroke="#1e9c89"/>
<circle cx="591.8" cy="1205.2" r="3.6" fill="#481d6f" stroke="#481d6f"/>
<circle cx="600.8" cy="1205.2" r="3.6" fill="#443a83" stroke="#443a83"/>
<circle cx="717.5" cy="1205.2" r="6.9" fill="#2f6c8e" stroke="#2f6c8e"/>
<circle cx="407.2" cy="768.9" r="5.5" fill="#287d8e" stroke="#287d8e"/>
<circle cx="414.8" cy="775.8" r="7.4" fill="#3e4989" stroke="#3e4989"/>
</g>
<g stroke="#000" stroke-width="2.5" stroke-linecap="butt">
<line x1="443.3" y1="478.8" x2="303.7" y2="759.1"/>
<line x1="454.3" y1="562.4" x2="382.3" y2="676.8"/>
<line x1="626.3" y1="535.8" x2="409.6" y2="708.4"/>
<line x1="541.8" y1="630.5" x2="400" y2="762.7"/>
<line x1="708.6" y1="622" x2="428.8" y2="736.7"/>
<line x1="707.3" y1="649.4" x2="671.6" y2="658.5"/>
<line x1="767.6" y1="681.8" x2="715.5" y2="706.5"/>
<line x1="922.6" y1="677.1" x2="863.1" y2="690"/>
<line x1="828.8" y1="730.6" x2="474" y2="804.3"/>
<line x1="721.6" y1="791.3" x2="387" y2="809"/>
<line x1="745.3" y1="845.4" x2="673.7" y2="821.2"/>
<line x1="684" y1="996" x2="476.5" y2="905.5"/>
<line x1="700" y1="1020.3" x2="373.3" y2="865.1"/>
<line x1="572.6" y1="538.6" x2="576.8" y2="542.4"/>
</g>
<g class="rb" font-size="22.0" fill="#000" stroke="#000" stroke-width="0.12">
<text x="397" y="470.1" textLength="106.8" lengthAdjust="spacingAndGlyphs">Ivan Toney</text>
<text x="569.6" y="528.5" textLength="145.7" lengthAdjust="spacingAndGlyphs">Elijah Adebayo</text>
<text x="377" y="554.5" textLength="171.5" lengthAdjust="spacingAndGlyphs">Tammy Abraham</text>
<text x="562.2" y="556.4" textLength="113.4" lengthAdjust="spacingAndGlyphs">Jhon Duran</text>
<text x="466.8" y="623" textLength="178" lengthAdjust="spacingAndGlyphs">George Ilenikhena</text>
<text x="662.6" y="615.6" textLength="152.2" lengthAdjust="spacingAndGlyphs">Romelu Lukaku</text>
<text x="675.6" y="643.6" textLength="158.8" lengthAdjust="spacingAndGlyphs">Benjamin Sesko</text>
<text x="714.7" y="674.4" textLength="156.8" lengthAdjust="spacingAndGlyphs">Viktor Gyokeres</text>
<text x="897.7" y="672.3" textLength="162.1" lengthAdjust="spacingAndGlyphs">Serhou Guirassy</text>
<text x="801.8" y="725" textLength="166.7" lengthAdjust="spacingAndGlyphs">Dominic Solanke</text>
<text x="745.5" y="754.9" textLength="130.2" lengthAdjust="spacingAndGlyphs">Simon Banza</text>
<text x="725.3" y="791.9" textLength="191.4" lengthAdjust="spacingAndGlyphs">Samuel Omorodion</text>
<text x="719.2" y="863.3" textLength="123.3" lengthAdjust="spacingAndGlyphs">Lois Openda</text>
<text x="641.7" y="1014.3" textLength="141.2" lengthAdjust="spacingAndGlyphs">Taiwo Awoniyi</text>
<text x="670.9" y="1038.3" textLength="110" lengthAdjust="spacingAndGlyphs">Liam Delap</text>
</g>
<text class="rb" x="102.7" y="1249.9" font-size="15" fill="#8b867e" textLength="174.8" lengthAdjust="spacingAndGlyphs">Data by: www.fbref.com</text>
<defs><path id="arc" d="M1107.7 1225.4 A114.2 114.2 0 0 0 1253.7 1222.2"/></defs>
<circle cx="1178.8" cy="1136.0" r="92.6" fill="#837d76"/>
<g font-family="'Liberation Mono','DejaVu Sans Mono',monospace" font-size="51.0" font-weight="700" fill="#8cc98a" stroke="#8cc98a" stroke-width="0.0" text-rendering="geometricPrecision" transform="scale(0.1)">
<text x="11500.0" y="10530.0" textLength="32.1" lengthAdjust="spacing">1</text>
<text x="12045.7" y="10530.0" textLength="32.1" lengthAdjust="spacing">0</text>
<text x="11371.6" y="10580.0" textLength="224.7" lengthAdjust="spacing">1000100</text>
<text x="11981.5" y="10580.0" textLength="224.7" lengthAdjust="spacing">0011000</text>
<text x="11307.4" y="10630.0" textLength="385.2" lengthAdjust="spacing">100001000011</text>
<text x="11917.3" y="10630.0" textLength="353.1" lengthAdjust="spacing">00100010000</text>
<text x="11243.2" y="10680.0" textLength="513.6" lengthAdjust="spacing">1111111000011111</text>
<text x="11853.1" y="10680.0" textLength="481.5" lengthAdjust="spacing">001010110011111</text>
<text x="11179.0" y="10730.0" textLength="609.9" lengthAdjust="spacing">0011001111101100100</text>
<text x="11821.0" y="10730.0" textLength="577.8" lengthAdjust="spacing">100111001110111110</text>
<text x="11114.8" y="10780.0" textLength="674.1" lengthAdjust="spacing">000000010110011100111</text>
<text x="11821.0" y="10780.0" textLength="642.0" lengthAdjust="spacing">11011000010010000010</text>
<text x="11082.7" y="10830.0" textLength="706.2" lengthAdjust="spacing">0010111100111110001110</text>
<text x="11821.0" y="10830.0" textLength="674.1" lengthAdjust="spacing">001001011010100010011</text>
<text x="11082.7" y="10880.0" textLength="706.2" lengthAdjust="spacing">0011101111000010101011</text>
<text x="11821.0" y="10880.0" textLength="706.2" lengthAdjust="spacing">0010101101110000001011</text>
<text x="11082.7" y="10930.0" textLength="706.2" lengthAdjust="spacing">0000001000101011100111</text>
<text x="11821.0" y="10930.0" textLength="706.2" lengthAdjust="spacing">0001000001001100001001</text>
<text x="11114.8" y="10980.0" textLength="674.1" lengthAdjust="spacing">001101110101010111001</text>
<text x="11821.0" y="10980.0" textLength="674.1" lengthAdjust="spacing">001001010100110001111</text>
<text x="11114.8" y="11030.0" textLength="674.1" lengthAdjust="spacing">011010111011100000110</text>
<text x="11821.0" y="11030.0" textLength="642.0" lengthAdjust="spacing">01011101101001010010</text>
<text x="11179.0" y="11080.0" textLength="545.7" lengthAdjust="spacing">00101011100000100</text>
<text x="11885.2" y="11080.0" textLength="577.8" lengthAdjust="spacing">011011011010000101</text>
<text x="11243.2" y="11130.0" textLength="417.3" lengthAdjust="spacing">0111100100110</text>
<text x="11917.3" y="11130.0" textLength="513.6" lengthAdjust="spacing">0001100011010100</text>
<text x="11307.4" y="11180.0" textLength="288.9" lengthAdjust="spacing">110111100</text>
<text x="11981.5" y="11180.0" textLength="385.2" lengthAdjust="spacing">101001101100</text>
<text x="11082.7" y="11230.0" textLength="256.8" lengthAdjust="spacing">00100101</text>
<text x="12206.2" y="11230.0" textLength="353.1" lengthAdjust="spacing">01100011101</text>
<text x="10986.4" y="11280.0" textLength="481.5" lengthAdjust="spacing">001000000010110</text>
<text x="12142.0" y="11280.0" textLength="481.5" lengthAdjust="spacing">001101000110100</text>
<text x="10922.2" y="11330.0" textLength="577.8" lengthAdjust="spacing">011101100001110010</text>
<text x="12109.9" y="11330.0" textLength="577.8" lengthAdjust="spacing">110011111100101011</text>
<text x="10890.1" y="11380.0" textLength="609.9" lengthAdjust="spacing">0111000001101010111</text>
<text x="12109.9" y="11380.0" textLength="577.8" lengthAdjust="spacing">000111101111010111</text>
<text x="10890.1" y="11430.0" textLength="642.0" lengthAdjust="spacing">00011101101110100100</text>
<text x="12077.8" y="11430.0" textLength="609.9" lengthAdjust="spacing">1110110100011011000</text>
<text x="10890.1" y="11480.0" textLength="642.0" lengthAdjust="spacing">11111111011100000101</text>
<text x="12045.7" y="11480.0" textLength="642.0" lengthAdjust="spacing">11100000101011001110</text>
<text x="10922.2" y="11530.0" textLength="642.0" lengthAdjust="spacing">11101110001011111000</text>
<text x="12045.7" y="11530.0" textLength="609.9" lengthAdjust="spacing">1110011100000010000</text>
<text x="10922.2" y="11580.0" textLength="642.0" lengthAdjust="spacing">00101100010110001111</text>
<text x="12013.6" y="11580.0" textLength="642.0" lengthAdjust="spacing">01000110001101011010</text>
<text x="10922.2" y="11630.0" textLength="642.0" lengthAdjust="spacing">11110010010100101101</text>
<text x="12045.7" y="11630.0" textLength="609.9" lengthAdjust="spacing">0011001000010001110</text>
<text x="10954.3" y="11680.0" textLength="577.8" lengthAdjust="spacing">001001011111000010</text>
<text x="11564.2" y="11680.0" textLength="449.4" lengthAdjust="spacing">11001111001011</text>
<text x="12077.8" y="11680.0" textLength="545.7" lengthAdjust="spacing">01110101010100100</text>
<text x="10954.3" y="11730.0" textLength="545.7" lengthAdjust="spacing">11110111100000111</text>
<text x="11532.1" y="11730.0" textLength="513.6" lengthAdjust="spacing">1110100100111100</text>
<text x="12109.9" y="11730.0" textLength="513.6" lengthAdjust="spacing">1001001101001000</text>
<text x="10986.4" y="11780.0" textLength="481.5" lengthAdjust="spacing">111000110011111</text>
<text x="11500.0" y="11780.0" textLength="577.8" lengthAdjust="spacing">110100000101011000</text>
<text x="12142.0" y="11780.0" textLength="449.4" lengthAdjust="spacing">10001011010000</text>
<text x="11018.5" y="11830.0" textLength="417.3" lengthAdjust="spacing">0010110010011</text>
<text x="11467.9" y="11830.0" textLength="642.0" lengthAdjust="spacing">00010001110100011010</text>
<text x="12142.0" y="11830.0" textLength="417.3" lengthAdjust="spacing">1000111111011</text>
<text x="11050.6" y="11880.0" textLength="321.0" lengthAdjust="spacing">1101011001</text>
<text x="11403.7" y="11880.0" textLength="738.3" lengthAdjust="spacing">01001110000010100110000</text>
<text x="12174.1" y="11880.0" textLength="353.1" lengthAdjust="spacing">11010011010</text>
<text x="11435.8" y="11930.0" textLength="738.3" lengthAdjust="spacing">00101000101100000010111</text>
<text x="11435.8" y="11980.0" textLength="706.2" lengthAdjust="spacing">1101111100011011011000</text>
<text x="11467.9" y="12030.0" textLength="674.1" lengthAdjust="spacing">111010000100100000011</text>
<text x="11467.9" y="12080.0" textLength="642.0" lengthAdjust="spacing">00011011101101011000</text>
<text x="11500.0" y="12130.0" textLength="577.8" lengthAdjust="spacing">101110100110111111</text>
<text x="11500.0" y="12180.0" textLength="577.8" lengthAdjust="spacing">011010001111000011</text>
<text x="11532.1" y="12230.0" textLength="513.6" lengthAdjust="spacing">1100100000110101</text>
</g>
<text font-family="'Liberation Sans','DejaVu Sans',sans-serif" font-weight="700" font-size="21.5" fill="#8faf84" stroke="#8faf84" stroke-width="1.0"><textPath href="#arc" startOffset="0" textLength="153.5" lengthAdjust="spacingAndGlyphs">@McLachBot</textPath></text>
<defs><linearGradient id="vg" x1="0" y1="1" x2="0" y2="0">
<stop offset="0.0000" stop-color="#440154"/>
<stop offset="0.0156" stop-color="#46075a"/>
<stop offset="0.0312" stop-color="#470d60"/>
<stop offset="0.0469" stop-color="#471365"/>
<stop offset="0.0625" stop-color="#48186a"/>
<stop offset="0.0781" stop-color="#481d6f"/>
<stop offset="0.0938" stop-color="#482374"/>
<stop offset="0.1094" stop-color="#482878"/>
<stop offset="0.1250" stop-color="#472d7b"/>
<stop offset="0.1406" stop-color="#46327e"/>
<stop offset="0.1562" stop-color="#453781"/>
<stop offset="0.1719" stop-color="#443b84"/>
<stop offset="0.1875" stop-color="#424086"/>
<stop offset="0.2031" stop-color="#404588"/>
<stop offset="0.2188" stop-color="#3e4989"/>
<stop offset="0.2344" stop-color="#3d4e8a"/>
<stop offset="0.2500" stop-color="#3b528b"/>
<stop offset="0.2656" stop-color="#39568c"/>
<stop offset="0.2812" stop-color="#375b8d"/>
<stop offset="0.2969" stop-color="#355f8d"/>
<stop offset="0.3125" stop-color="#33638d"/>
<stop offset="0.3281" stop-color="#31678e"/>
<stop offset="0.3438" stop-color="#2f6b8e"/>
<stop offset="0.3594" stop-color="#2e6f8e"/>
<stop offset="0.3750" stop-color="#2c728e"/>
<stop offset="0.3906" stop-color="#2a768e"/>
<stop offset="0.4062" stop-color="#297a8e"/>
<stop offset="0.4219" stop-color="#277e8e"/>
<stop offset="0.4375" stop-color="#26828e"/>
<stop offset="0.4531" stop-color="#25858e"/>
<stop offset="0.4688" stop-color="#23898e"/>
<stop offset="0.4844" stop-color="#228d8d"/>
<stop offset="0.5000" stop-color="#21918c"/>
<stop offset="0.5156" stop-color="#1f948c"/>
<stop offset="0.5312" stop-color="#1f988b"/>
<stop offset="0.5469" stop-color="#1e9c89"/>
<stop offset="0.5625" stop-color="#1fa088"/>
<stop offset="0.5781" stop-color="#20a386"/>
<stop offset="0.5938" stop-color="#22a785"/>
<stop offset="0.6094" stop-color="#25ab82"/>
<stop offset="0.6250" stop-color="#28ae80"/>
<stop offset="0.6406" stop-color="#2db27d"/>
<stop offset="0.6562" stop-color="#32b67a"/>
<stop offset="0.6719" stop-color="#38b977"/>
<stop offset="0.6875" stop-color="#3fbc73"/>
<stop offset="0.7031" stop-color="#46c06f"/>
<stop offset="0.7188" stop-color="#4ec36b"/>
<stop offset="0.7344" stop-color="#56c667"/>
<stop offset="0.7500" stop-color="#5ec962"/>
<stop offset="0.7656" stop-color="#67cc5c"/>
<stop offset="0.7812" stop-color="#70cf57"/>
<stop offset="0.7969" stop-color="#7ad151"/>
<stop offset="0.8125" stop-color="#84d44b"/>
<stop offset="0.8281" stop-color="#8ed645"/>
<stop offset="0.8438" stop-color="#98d83e"/>
<stop offset="0.8594" stop-color="#a2da37"/>
<stop offset="0.8750" stop-color="#addc30"/>
<stop offset="0.8906" stop-color="#b8de29"/>
<stop offset="0.9062" stop-color="#c2df23"/>
<stop offset="0.9219" stop-color="#cde11d"/>
<stop offset="0.9375" stop-color="#d8e219"/>
<stop offset="0.9531" stop-color="#e2e418"/>
<stop offset="0.9688" stop-color="#ece51b"/>
<stop offset="0.9844" stop-color="#f6e620"/>
<stop offset="1.0000" stop-color="#fde725"/>
</linearGradient></defs>
<rect x="1357.1" y="194.2" width="59.5" height="1059.3999999999999" fill="url(#vg)" fill-opacity="0.8" stroke="#000" stroke-width="1.5"/>
<g stroke="#000" stroke-width="1.5">
<line x1="1349.8999999999999" y1="1253.6" x2="1357.1" y2="1253.6"/>
<line x1="1349.8999999999999" y1="1041.7" x2="1357.1" y2="1041.7"/>
<line x1="1349.8999999999999" y1="829.8" x2="1357.1" y2="829.8"/>
<line x1="1349.8999999999999" y1="618.0" x2="1357.1" y2="618.0"/>
<line x1="1349.8999999999999" y1="406.1" x2="1357.1" y2="406.1"/>
<line x1="1349.8999999999999" y1="194.2" x2="1357.1" y2="194.2"/>
</g>
<g class="rb" font-size="20.4" fill="#000" stroke="#000" stroke-width="0.35">
<text x="1340.8" y="1261.6" text-anchor="end" textLength="37" lengthAdjust="spacingAndGlyphs">0.00</text>
<text x="1340.8" y="1049.7" text-anchor="end" textLength="37" lengthAdjust="spacingAndGlyphs">0.17</text>
<text x="1340.8" y="837.8" text-anchor="end" textLength="37" lengthAdjust="spacingAndGlyphs">0.26</text>
<text x="1340.8" y="626.0" text-anchor="end" textLength="37" lengthAdjust="spacingAndGlyphs">0.34</text>
<text x="1340.8" y="414.1" text-anchor="end" textLength="37" lengthAdjust="spacingAndGlyphs">0.43</text>
<text x="1340.8" y="202.2" text-anchor="end" textLength="37" lengthAdjust="spacingAndGlyphs">1.19</text>
</g>
<text class="dj" font-size="20.5" transform="translate(1440.3 724.5) rotate(-90)" text-anchor="middle" fill="#000" stroke="#000" stroke-width="0.25">NPxG P90</text>
<text class="dj" font-size="15.9" x="217.5" y="1371" text-anchor="middle" fill="#000">Minutes</text>
<g fill="#34322f" stroke="#0d0d0d" stroke-width="1.3">
<circle cx="129.6" cy="1393.4" r="5.65"/>
<circle cx="129.6" cy="1423.6" r="7.30"/>
<circle cx="243.3" cy="1393.4" r="8.65"/>
<circle cx="243.3" cy="1423.6" r="10.05"/>
</g>
<g class="dj" font-size="17.4" fill="#000">
<text x="167.1" y="1399.7">800</text>
<text x="167.1" y="1429.9">1600</text>
<text x="280.8" y="1399.7">2400</text>
<text x="280.8" y="1429.9">3200</text>
</g>
</svg></body></html>
